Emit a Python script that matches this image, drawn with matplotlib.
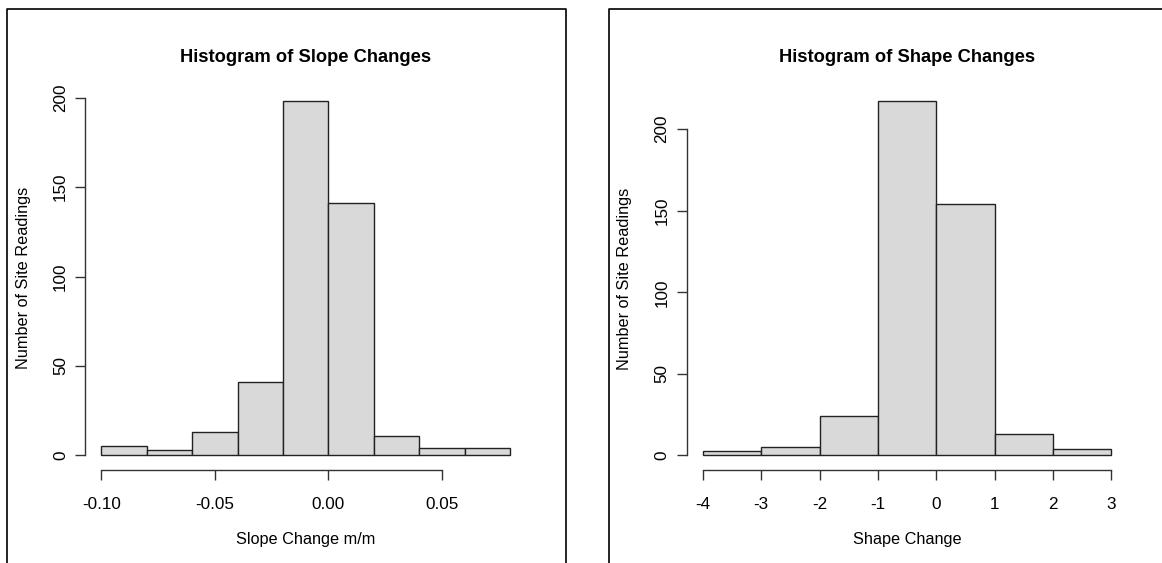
import matplotlib
matplotlib.use("Agg")
import matplotlib.pyplot as plt
from matplotlib.lines import Line2D
import numpy as np

plt.rcParams['font.family'] = ['Liberation Sans', 'DejaVu Sans']

# ---- data ----
slope_breaks = [-0.10, -0.08, -0.06, -0.04, -0.02, 0.00, 0.02, 0.04, 0.06, 0.08]
slope_counts = [5, 3, 13, 41, 198, 141, 11, 4, 4]
slope_xticks = [-0.10, -0.05, 0.00, 0.05]
slope_xticklabels = ["-0.10", "-0.05", "0.00", "0.05"]
slope_yticks = [0, 50, 100, 150, 200]

shape_breaks = [-4, -3, -2, -1, 0, 1, 2, 3]
shape_counts = [3, 5, 24, 217, 154, 13, 4]
shape_xticks = [-4, -3, -2, -1, 0, 1, 2, 3]
shape_xticklabels = ["-4", "-3", "-2", "-1", "0", "1", "2", "3"]
shape_yticks = [0, 50, 100, 150, 200]

titles = ["Histogram of Slope Changes", "Histogram of Shape Changes"]
xlabels = ["Slope Change m/m", "Shape Change"]
ylabel = "Number of Site Readings"

W, H = 1162, 563
fig = plt.figure(figsize=(W / 100, H / 100), dpi=100)

def px_axes(x0, x1, y0, y1):
    # pixel box (top-left origin) -> figure fraction
    return [x0 / W, 1 - y1 / H, (x1 - x0) / W, (y1 - y0) / H]

panels = [
    dict(breaks=slope_breaks, counts=slope_counts, xticks=slope_xticks,
         xticklabels=slope_xticklabels, yticks=slope_yticks,
         box=(85.0, 526.5, 87.1, 469.6), frame=(6.5, 566.0)),
    dict(breaks=shape_breaks, counts=shape_counts, xticks=shape_xticks,
         xticklabels=shape_xticklabels, yticks=shape_yticks,
         box=(686.5, 1127.7, 87.2, 469.6), frame=(608.7, 1175.0)),
]

fs_tick = 12.3
fs_lab = 11.7
fs_title = 13.2
for i, p in enumerate(panels):
    ax = fig.add_axes(px_axes(*p['box']))
    b = np.array(p['breaks'], dtype=float)
    c = np.array(p['counts'], dtype=float)
    ax.bar(b[:-1], c, width=np.diff(b), align='edge', color='#d9d9d9',
           edgecolor='#222222', linewidth=1.0)
    xr = b[-1] - b[0]
    ax.set_xlim(b[0] - 0.04 * xr, b[-1] + 0.04 * xr)
    yr = c.max()
    ax.set_ylim(-0.04 * yr, yr * 1.04)
    for s in ['top', 'right']:
        ax.spines[s].set_visible(False)
    ax.spines['left'].set_bounds(p['yticks'][0], p['yticks'][-1])
    ax.spines['bottom'].set_bounds(p['xticks'][0], p['xticks'][-1])
    for s in ['left', 'bottom']:
        ax.spines[s].set_linewidth(1.0)
        ax.spines[s].set_color('#333333')
    ax.set_xticks(p['xticks'])
    ax.set_xticklabels(p['xticklabels'])
    ax.set_yticks(p['yticks'])
    ax.set_yticklabels([str(v) for v in p['yticks']], rotation=90, va='center')
    ax.tick_params(axis='both', direction='out', length=7.2, width=1.0,
                   color='#333333', labelsize=fs_tick)
    ax.tick_params(axis='x', pad=12.2)
    ax.tick_params(axis='y', pad=5.1)
    ax.set_title(titles[i], fontsize=fs_title, fontweight='bold', pad=18.4)
    ax.set_xlabel(xlabels[i], fontsize=fs_lab, labelpad=14.8)
    ax.set_ylabel(ylabel, fontsize=fs_lab, labelpad=16.0)
    # outer frame of each figure region (bottom cut off by image edge)
    x0, x1 = p['frame']
    yt = 9.3
    fig.add_artist(Line2D([x0 / W, x0 / W, x1 / W, x1 / W],
                          [-0.1, 1 - yt / H, 1 - yt / H, -0.1],
                          transform=fig.transFigure, color='black', linewidth=1.2))

fig.savefig("out.png", dpi=100)
